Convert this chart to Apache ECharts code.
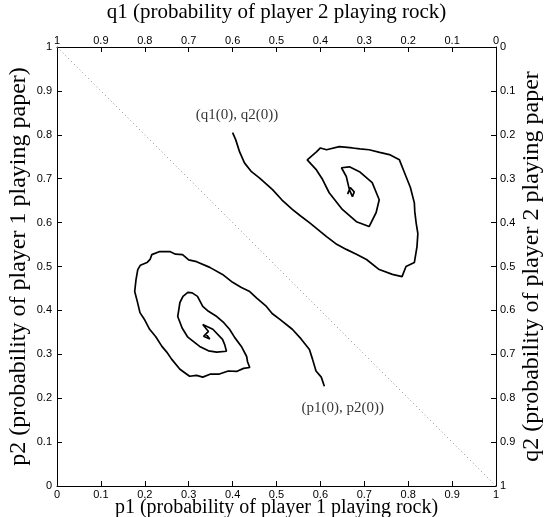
<!DOCTYPE html>
<html>
<head>
<meta charset="utf-8">
<script src="https://cdn.jsdelivr.net/npm/echarts@6/dist/echarts.min.js"></script>
<style>
html, body { margin: 0; padding: 0; background: #fff; }
#chart { width: 549px; height: 517px; }
</style>
</head>
<body>
<div id="chart"></div>
<script>
// trajectory of player 1 (p1, p2), starting at (p1(0), p2(0))
const player1Path = [
	[0.609, 0.227], [0.602, 0.248], [0.590, 0.262], [0.582, 0.289], [0.575, 0.311],
	[0.556, 0.335], [0.536, 0.357], [0.507, 0.380], [0.490, 0.393], [0.477, 0.409],
	[0.455, 0.428], [0.439, 0.443], [0.420, 0.452], [0.400, 0.464], [0.377, 0.482],
	[0.348, 0.498], [0.318, 0.511], [0.300, 0.515], [0.286, 0.527], [0.270, 0.528],
	[0.257, 0.534], [0.234, 0.534], [0.216, 0.527], [0.212, 0.516], [0.205, 0.509],
	[0.190, 0.503], [0.184, 0.493], [0.180, 0.470], [0.177, 0.443], [0.183, 0.420],
	[0.189, 0.395], [0.200, 0.378], [0.211, 0.357], [0.225, 0.340], [0.239, 0.318],
	[0.250, 0.305], [0.261, 0.289], [0.280, 0.266], [0.302, 0.250], [0.318, 0.252],
	[0.332, 0.248], [0.350, 0.255], [0.370, 0.255], [0.390, 0.262], [0.409, 0.261],
	[0.425, 0.268], [0.439, 0.270], [0.434, 0.283], [0.432, 0.295], [0.420, 0.318],
	[0.405, 0.338], [0.393, 0.357], [0.380, 0.372], [0.364, 0.386], [0.345, 0.398],
	[0.332, 0.409], [0.320, 0.432], [0.308, 0.440], [0.298, 0.441], [0.287, 0.432],
	[0.280, 0.418], [0.275, 0.386], [0.285, 0.360], [0.298, 0.339], [0.325, 0.318],
	[0.345, 0.308], [0.364, 0.305], [0.386, 0.307], [0.382, 0.322], [0.377, 0.334],
	[0.355, 0.357], [0.332, 0.368], [0.345, 0.352], [0.334, 0.341], [0.348, 0.335],
	[0.338, 0.348]
]

// trajectory of player 2 (q1, q2), starting at (q1(0), q2(0)), drawn in p1/p2 coordinates
const player2Path = [
	[0.400, 0.805], [0.407, 0.789], [0.416, 0.761], [0.427, 0.736], [0.443, 0.716],
	[0.461, 0.702], [0.491, 0.675], [0.512, 0.652], [0.536, 0.630], [0.555, 0.615],
	[0.575, 0.600], [0.614, 0.568], [0.635, 0.552], [0.659, 0.539], [0.682, 0.528],
	[0.705, 0.516], [0.734, 0.493], [0.764, 0.482], [0.786, 0.477], [0.795, 0.500],
	[0.814, 0.509], [0.820, 0.545], [0.822, 0.575], [0.818, 0.600], [0.815, 0.625],
	[0.814, 0.645], [0.805, 0.680], [0.795, 0.705], [0.780, 0.743], [0.757, 0.755],
	[0.735, 0.760], [0.711, 0.766], [0.690, 0.768], [0.673, 0.770], [0.643, 0.773],
	[0.614, 0.766], [0.600, 0.770], [0.591, 0.761], [0.570, 0.743], [0.591, 0.720],
	[0.605, 0.698], [0.620, 0.668], [0.650, 0.630], [0.682, 0.602], [0.711, 0.591],
	[0.727, 0.623], [0.734, 0.652], [0.718, 0.691], [0.689, 0.716], [0.666, 0.727],
	[0.648, 0.725], [0.659, 0.705], [0.666, 0.675], [0.673, 0.659], [0.677, 0.670],
	[0.668, 0.680], [0.662, 0.665]
]

const diagonal = [[0, 1], [1, 0]]

const annotations = [
	{ value: [0.41, 0.845], text: "(q1(0), q2(0))" },
	{ value: [0.651, 0.178], text: "(p1(0), p2(0))" },
]

const axisNames = {
	bottom: "p1 (probability of player 1 playing rock)",
	top: "q1 (probability of player 2 playing rock)",
	left: "p2 (probability of player 1 playing paper)",
	right: "q2 (probability of player 2 playing paper",
}

const tickFont = { fontFamily: "Liberation Sans", fontSize: 11, color: "#000" }

function makeAxis(position, name, inverse, nameGap, labelMargin, nameSize) {
	return {
		type: "value",
		position: position,
		min: 0,
		max: 1,
		interval: 0.1,
		inverse: inverse,
		name: name,
		nameLocation: "middle",
		nameGap: nameGap,
		nameMoveOverlap: false,
		nameTextStyle: { fontFamily: "Liberation Serif", fontSize: nameSize, color: "#000" },
		axisLine: { show: true, onZero: false, lineStyle: { color: "#000", width: 1 } },
		axisTick: { show: true, inside: true, length: 5, lineStyle: { color: "#000" } },
		axisLabel: Object.assign({ margin: labelMargin, showMinLabel: true, showMaxLabel: true }, tickFont),
		splitLine: { show: false },
	}
}

const chart = echarts.init(document.getElementById("chart"))
chart.setOption({
	animation: false,
	backgroundColor: "#fff",
	grid: { left: 57, right: 53, top: 47, bottom: 31, containLabel: false, outerBoundsMode: "none" },
	xAxis: [
		makeAxis("bottom", axisNames.bottom, false, 12, 3, 20),
		makeAxis("top", axisNames.top, true, 24, 1, 21),
	],
	yAxis: [
		makeAxis("left", axisNames.left, false, 26, 5, 24),
		makeAxis("right", axisNames.right, true, 24, 4, 24),
	],
	series: [
		{
			type: "line",
			data: diagonal,
			showSymbol: false,
			lineStyle: { color: "#888", width: 1, type: [1, 3] },
		},
		{
			type: "line",
			data: player1Path,
			showSymbol: false,
			lineStyle: { color: "#000", width: 1.7 },
		},
		{
			type: "line",
			data: player2Path,
			showSymbol: false,
			lineStyle: { color: "#000", width: 1.7 },
		},
		{
			type: "scatter",
			symbolSize: 0,
			data: annotations.map((a) => ({ value: a.value, name: a.text })),
			label: {
				show: true,
				position: "inside",
				formatter: (p) => p.name,
				fontFamily: "Liberation Serif",
				fontSize: 15,
				color: "#000",
				textBorderWidth: 0,
			},
		},
	],
})
</script>
</body>
</html>
